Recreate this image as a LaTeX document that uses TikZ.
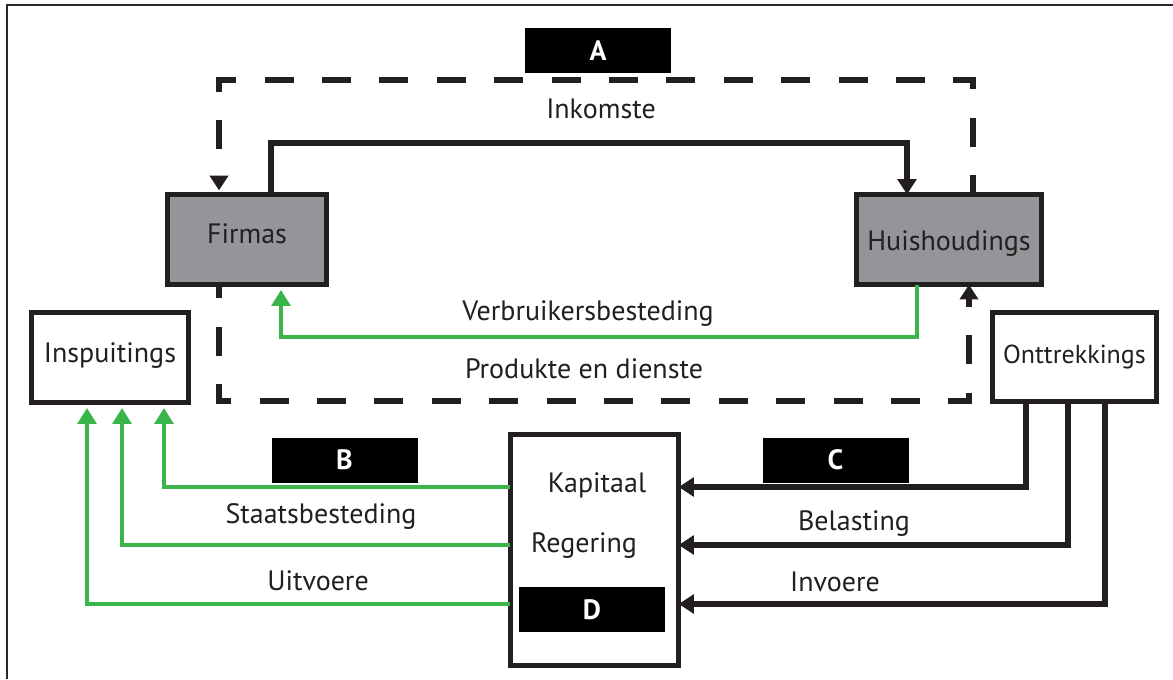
\documentclass[tikz,border=0pt]{standalone}
\usepackage{fontspec}
\setmainfont{PT Sans}
\usetikzlibrary{arrows.meta}
\definecolor{ink}{HTML}{231F20}
\definecolor{boxgray}{HTML}{939598}
\definecolor{flowgreen}{HTML}{39B54A}
\begin{document}
\begin{tikzpicture}[x=0.75pt,y=-0.75pt,
  lbl/.style={font=\fontsize{21}{25}\selectfont, text=ink, inner sep=0pt, anchor=base},
  sector/.style={draw=ink, line width=3.6pt, fill=boxgray, outer sep=0pt, inner sep=0pt,
    font=\fontsize{21}{25}\selectfont, text=ink, text height=18pt},
  plainbox/.style={draw=ink, line width=3.6pt, fill=white, outer sep=0pt, inner sep=0pt,
    font=\fontsize{21}{25}\selectfont, text=ink, text height=18pt},
  tag/.style={fill=black, text=white, font=\bfseries\fontsize{21}{25}\selectfont,
    minimum width=109.5pt, minimum height=33.75pt, inner sep=0pt, outer sep=0pt},
  blkflow/.style={draw=ink, line width=3.9pt, line join=miter, -{Triangle[length=11.5pt,width=14pt]}},
  grnflow/.style={draw=flowgreen, line width=3.1pt, line join=miter, -{Triangle[length=12pt,width=14pt]}},
  dashflow/.style={draw=ink, line width=3.9pt, line join=miter, dash pattern=on 21.75pt off 21.3pt,
    -{Triangle[length=11pt,width=13.5pt]}},
]
\useasboundingbox (0,0) rectangle (1173,679);
\fill[white] (0,0) rectangle (1173,679);
% outer frame
\draw[line width=1.6pt, black!85] (7,679) -- (7,5) -- (1173,5);

% boxes
\node[sector, minimum width=119.4pt, minimum height=67.7pt, text depth=12.3pt] (firmas) at (247,239.5) {Firmas};
\node[sector, minimum width=138.9pt, minimum height=67.7pt, text depth=2.25pt] (huis) at (949,239.5) {Huishoudings};
\node[plainbox, minimum width=117.9pt, minimum height=67.7pt, text depth=11.25pt] (insp) at (110,357.5) {Inspuitings};
\node[plainbox, minimum width=123.2pt, minimum height=66.9pt, text depth=9pt,
  font=\fontsize{19.5}{24}\selectfont] (ont) at (1074.5,357) {Onttrekkings};
\node[plainbox, minimum width=126.2pt, minimum height=173.4pt] (gov) at (594.5,550) {};

% tags
\node[tag] (tA) at (598,50.5) {A};
\node[tag] (tB) at (344.5,460) {B};
\node[tag] (tC) at (835.5,460) {C};
\node[tag] (tD) at (592,609.5) {D};

% texts
\node[lbl] (inkomste) at (601,118) {Inkomste};
\node[lbl] (verbr) at (588,320) {Verbruikersbesteding};
\node[lbl] (produkte) at (584,378) {Produkte en dienste};
\node[lbl] (staats) at (321,523) {Staatsbesteding};
\node[lbl] (uitvoere) at (318,590) {Uitvoere};
\node[lbl] (belasting) at (854,530) {Belasting};
\node[lbl] (invoere) at (835,591) {Invoere};
\node[lbl] (kapitaal) at (597,492) {Kapitaal};
\node[lbl] (regering) at (584,552) {Regering};

% routing points
\coordinate (dL) at (219,80);
\coordinate (dR) at (973,80);
\coordinate (eL) at (219,401);
\coordinate (eR) at (969,401);
\coordinate (iL) at (271,143);
\coordinate (iR) at (907,143);
\coordinate (gR) at (917,337);
\coordinate (gL) at (281,337);
\coordinate (b1) at (164,487);
\coordinate (b2) at (122,545);
\coordinate (b3) at (87,604);
\coordinate (c1) at (1026,487);
\coordinate (c2) at (1068,545);
\coordinate (c3) at (1105,604);

% circular flow (dashed)
\draw[dashflow, dash phase=7.35pt, shorten >=3pt] (huis.north -| dR) -- (dR) -- (dL) -- (firmas.north -| dL);
\draw[dashflow, dash phase=11.4pt] (firmas.south -| eL) -- (eL) -- (eR) -- (huis.south -| eR);

% income and spending
\draw[blkflow] (firmas.north -| iL) -- (iL) -- (iR) -- (huis.north -| iR);
\draw[grnflow, shorten >=4pt] (huis.south -| gR) -- (gR) -- (gL) -- (firmas.south -| gL);

% injections
\draw[grnflow, shorten >=4pt] (gov.west |- b1) -- (b1) -- (insp.south -| b1);
\draw[grnflow, shorten >=4pt] (gov.west |- b2) -- (b2) -- (insp.south -| b2);
\draw[grnflow, shorten >=4pt] (gov.west |- b3) -- (b3) -- (insp.south -| b3);

% leakages
\draw[blkflow] (ont.south -| c1) -- (c1) -- (gov.east |- c1);
\draw[blkflow] (ont.south -| c2) -- (c2) -- (gov.east |- c2);
\draw[blkflow] (ont.south -| c3) -- (c3) -- (gov.east |- c3);
\end{tikzpicture}
\end{document}
